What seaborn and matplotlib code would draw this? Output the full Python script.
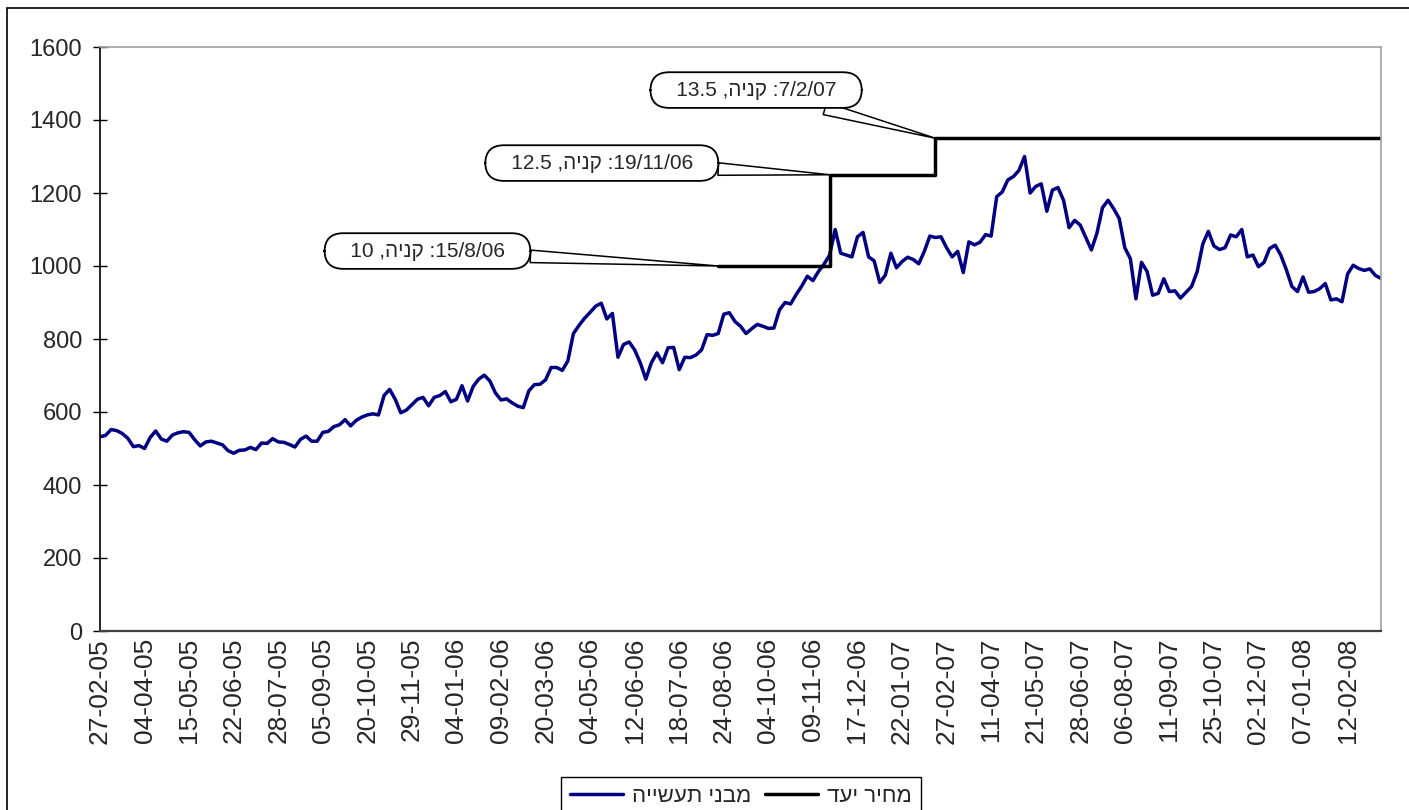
import re
import numpy as np
import pandas as pd
import matplotlib
matplotlib.use("Agg")
import matplotlib.pyplot as plt
import seaborn as sns
from matplotlib.patches import Rectangle

# tick labels, one every 8 samples
tick_labels = [
    "27-02-05", "04-04-05", "15-05-05", "22-06-05", "28-07-05", "05-09-05",
    "20-10-05", "29-11-05", "04-01-06", "09-02-06", "20-03-06", "04-05-06",
    "12-06-06", "18-07-06", "24-08-06", "04-10-06", "09-11-06", "17-12-06",
    "22-01-07", "27-02-07", "11-04-07", "21-05-07", "28-06-07", "06-08-07",
    "11-09-07", "25-10-07", "02-12-07", "07-01-08", "12-02-08",
]
tick_every = 8

# share price
price = [
    532, 536, 552, 549, 541, 528, 505, 508, 500, 530,
    548, 526, 520, 537, 543, 546, 544, 524, 507, 518,
    520, 515, 510, 494, 487, 495, 496, 503, 497, 515,
    514, 527, 518, 517, 511, 504, 525, 534, 520, 520,
    544, 547, 560, 565, 579, 562, 577, 586, 592, 595,
    592, 645, 662, 635, 598, 605, 620, 635, 640,
    617, 640, 645, 656, 628, 635, 672, 630, 670, 690,
    701, 685, 652, 633, 636, 625, 616, 612, 658, 675,
    676, 688, 722, 722, 714, 740, 815, 837, 857, 873,
    890, 898, 855, 870, 750, 785, 792, 770, 735, 690,
    735, 762, 735, 776, 777, 716, 750, 749, 756, 770,
    812, 810, 815, 868, 872, 848, 835, 815,
    828, 840, 835, 829, 830,
    880, 900, 896, 922, 945, 972, 960, 985, 1005, 1030,
    1100, 1035, 1030, 1025, 1080, 1092, 1025, 1014, 955, 975,
    1035, 995, 1012, 1024, 1018, 1006, 1040, 1082, 1078, 1080,
    1050, 1025, 1040, 982, 1066, 1058, 1065, 1086, 1082, 1190,
    1203, 1236, 1245, 1262, 1300, 1200, 1218, 1225, 1150, 1208,
    1215, 1180,
    1105, 1125, 1112, 1078, 1044, 1090, 1160, 1180, 1157, 1130,
    1050, 1020, 910, 1010, 985, 920, 925, 965, 930, 932,
    912, 928, 944, 985, 1060, 1095, 1055, 1045, 1050, 1085,
    1080, 1100, 1025, 1030, 998, 1010, 1048, 1057, 1030, 990,
    944, 930, 970, 928, 930, 938, 952, 907, 910, 902,
    978, 1002, 993, 988, 992, 974, 966,
]

# target price: sample where each level starts, and the level
target_start = [111, 131, 150]
target_level = [1000, 1250, 1350]

# callouts (logical Hebrew text)
callout_text = ["15/8/06: קניה, 10", "19/11/06: קניה, 12.5", "7/2/07: קניה, 13.5"]
callout_box_x = [58.8, 90.1, 117.8]
callout_box_y = [1041, 1282, 1482]

series_names = ["מבני תעשייה", "מחיר יעד"]


def rtl(text):
    # matplotlib has no bidi support: put the string in visual order
    flipped = text[::-1]
    return re.sub(r"[0-9A-Za-z./]+", lambda m: m.group(0)[::-1], flipped)


n = len(price)
price_df = pd.DataFrame({"idx": np.arange(n), "value": price})

lengths = np.diff(target_start + [n])
target_df = pd.DataFrame({
    "idx": np.arange(target_start[0], n),
    "value": np.repeat(target_level, lengths),
})

sns.set_theme(style="white")
plt.rcParams["font.family"] = ["Liberation Sans", "DejaVu Sans"]

fig = plt.figure(figsize=(14.09, 8.10), dpi=100)
ax = fig.add_axes([100 / 1409, 1 - 631 / 810, 1281 / 1409, 584 / 810])

sns.lineplot(data=price_df, x="idx", y="value", ax=ax, color="#000080",
             linewidth=2.5, errorbar=None, label=rtl(series_names[0]), legend=False)
sns.lineplot(data=target_df, x="idx", y="value", ax=ax, color="black",
             linewidth=2.5, errorbar=None, drawstyle="steps-post",
             label=rtl(series_names[1]), legend=False)

ax.set_xlim(0, n - 1)
ax.set_ylim(0, 1600)
ax.set_yticks(np.arange(0, 1601, 200))
ax.set_xticks(np.arange(0, len(tick_labels) * tick_every, tick_every))
ax.set_xticklabels(tick_labels, rotation=90)
ax.set_xlabel("")
ax.set_ylabel("")

ax.tick_params(axis="y", direction="inout", length=10, width=1, color="black",
               labelsize=17, pad=8, left=True)
ax.tick_params(axis="x", length=0, labelsize=19, pad=5)

for side in ["top", "right"]:
    ax.spines[side].set_color("#a0a0a0")
    ax.spines[side].set_linewidth(1.2)
ax.spines["left"].set_color("black")
ax.spines["bottom"].set_color("#404040")
ax.spines["left"].set_linewidth(1.2)
ax.spines["bottom"].set_linewidth(1.6)

for text, xi, yv, tx, ty in zip(callout_text, target_start, target_level,
                                callout_box_x, callout_box_y):
    ax.annotate("   " + rtl(text) + "   ", xy=(xi, yv), xytext=(tx, ty),
                textcoords="data", ha="center", va="center", fontsize=15,
                zorder=5,
                bbox=dict(boxstyle="round,pad=0.4,rounding_size=0.9",
                          fc="white", ec="black", lw=1.3),
                arrowprops=dict(arrowstyle="wedge,tail_width=0.6,shrink_factor=0.5",
                                fc="white", ec="black", lw=1.1,
                                shrinkA=0, shrinkB=0))

# outer chart border
fig.patches.append(Rectangle((7 / 1409, -0.05), 1.1, 1.05 - 8 / 810,
                             transform=fig.transFigure, fill=False,
                             ec="black", lw=1.2))

handles = ax.get_lines()[:2]
fig.legend(handles, [h.get_label() for h in handles], loc="upper center",
           bbox_to_anchor=(741 / 1409, 1 - 766 / 810), ncol=2, fontsize=16,
           frameon=True, fancybox=False, edgecolor="black", framealpha=1,
           handlelength=2.4, columnspacing=0.6, handletextpad=0.4,
           borderpad=0.4)

fig.savefig("out.png", dpi=100)
